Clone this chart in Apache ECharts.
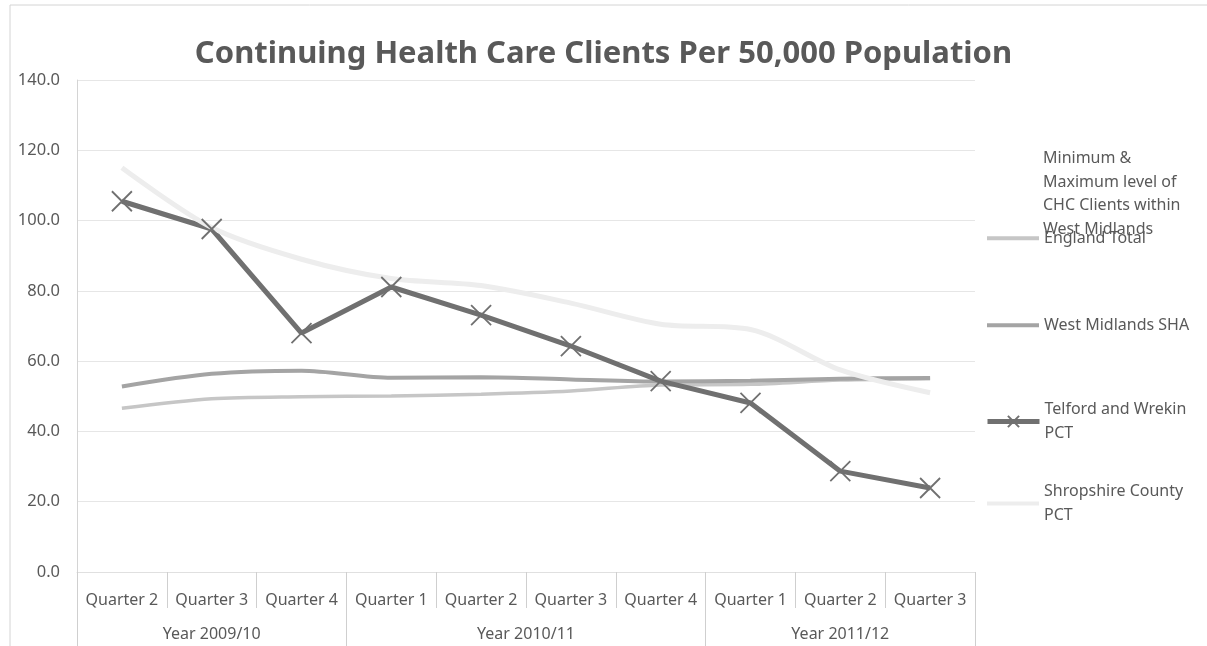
<!DOCTYPE html>
<html>
<head>
<meta charset="utf-8">
<script src="https://cdn.jsdelivr.net/npm/echarts@6/dist/echarts.min.js"></script>
<style>html,body{margin:0;padding:0;background:#fff;}#c{width:1207px;height:646px;}</style>
</head>
<body>
<div id="c"></div>
<script>
// ---- data ----
const quarters = ['Quarter 2','Quarter 3','Quarter 4','Quarter 1','Quarter 2','Quarter 3','Quarter 4','Quarter 1','Quarter 2','Quarter 3'];
const yearLabels = ['Year 2009/10','Year 2010/11','Year 2011/12'];
const yearCenters = [1.5, 5, 8.5];
const yearBounds = [0, 3, 7, 10];
const yTicks = [0, 20, 40, 60, 80, 100, 120, 140];
const minMaxName = 'Minimum &\nMaximum level of\nCHC Clients within\nWest Midlands';
const englandTotal = [46.6, 49.3, 49.9, 50.1, 50.6, 51.5, 53.2, 53.4, 54.6, 55.0];
const westMidlandsSHA = [52.8, 56.4, 57.3, 55.3, 55.4, 54.8, 54.2, 54.4, 55.0, 55.2];
const telfordWrekin = [105.5, 97.6, 68.0, 81.1, 73.1, 64.3, 54.3, 48.1, 28.7, 23.9];
const shropshire = [115.0, 98.0, 89.0, 83.5, 81.5, 76.5, 70.5, 69.0, 57.5, 51.0];

const txt = '#595959';
const font = 'Noto Sans';
const xMark = 'path://M0,0L10,10M10,0L0,10';

const chart = echarts.init(document.getElementById('c'));
function leg(name, top, item) {
  return {
    left: 985, top: top, orient: 'vertical', padding: 0,
    itemWidth: 52, itemHeight: 14, itemGap: 0,
    selectedMode: false,
    textStyle: {color: txt, fontFamily: font, fontSize: 16, lineHeight: 23.5},
    data: [Object.assign({name: name}, item || {})]
  };
}
chart.setOption({
  animation: false,
  backgroundColor: '#fff',
  title: {
    text: 'Continuing Health Care Clients Per 50,000 Population',
    left: 'center', top: 34,
    textStyle: {color: txt, fontFamily: font, fontWeight: 'bold', fontSize: 31}
  },
  graphic: [{
    type: 'rect', shape: {x: 10, y: 5, width: 1220, height: 660},
    style: {fill: 'none', stroke: '#d4d4d4', lineWidth: 1}, silent: true
  }],
  legend: [
    leg(minMaxName, 147, {itemStyle: {opacity: 0}, lineStyle: {opacity: 0}}),
    leg('England Total', 226.5, {itemStyle: {opacity: 0}, lineStyle: {width: 4}}),
    leg('West Midlands SHA', 313.5, {itemStyle: {opacity: 0}, lineStyle: {width: 4}}),
    leg('Telford and Wrekin\nPCT', 398, {lineStyle: {width: 5}}),
    leg('Shropshire County\nPCT', 480, {itemStyle: {opacity: 0}, lineStyle: {width: 4}})
  ],
  grid: {left: 77, right: 232, top: 80, bottom: 74, containLabel: false},
  xAxis: [{
    type: 'category', data: quarters, boundaryGap: true,
    axisLine: {show: true, lineStyle: {color: '#e0e0e0', width: 1}},
    axisTick: {show: true, interval: 0, length: 36, lineStyle: {color: '#cfcfcf', width: 1}},
    axisLabel: {interval: 0, color: txt, fontFamily: font, fontSize: 16, margin: 20}
  }, {
    type: 'value', min: 0, max: 10, position: 'bottom',
    axisLine: {show: false},
    splitLine: {show: false},
    axisTick: {show: true, customValues: yearBounds, length: 74, lineStyle: {color: '#cfcfcf', width: 1}},
    axisLabel: {show: true, customValues: yearCenters, color: txt, fontFamily: font, fontSize: 16, margin: 54,
      formatter: function (v) { const i = yearCenters.indexOf(v); return i >= 0 ? yearLabels[i] : ''; }}
  }],
  yAxis: {
    type: 'value', min: yTicks[0], max: yTicks[yTicks.length - 1], interval: 20,
    axisLine: {show: true, lineStyle: {color: '#d4d4d4', width: 1}},
    axisTick: {show: false},
    splitLine: {show: true, lineStyle: {color: '#e6e6e6', width: 1}},
    axisLabel: {color: txt, fontFamily: font, fontSize: 16.5, margin: 17, formatter: v => v.toFixed(1)}
  },
  series: [
    {name: minMaxName, type: 'line', data: [], symbol: 'none', lineStyle: {opacity: 0}},
    {name: 'England Total', type: 'line', data: englandTotal, smooth: 0.3, symbol: 'none',
      lineStyle: {color: '#c6c6c6', width: 3.5}, itemStyle: {color: '#c6c6c6'}},
    {name: 'West Midlands SHA', type: 'line', data: westMidlandsSHA, smooth: 0.3, symbol: 'none',
      lineStyle: {color: '#a4a4a4', width: 4}, itemStyle: {color: '#a4a4a4'}},
    {name: 'Telford and Wrekin\nPCT', type: 'line', data: telfordWrekin, symbol: xMark, symbolSize: 20,
      showAllSymbol: true,
      lineStyle: {color: '#707070', width: 5}, itemStyle: {color: 'none', borderColor: '#707070', borderWidth: 1.8}},
    {name: 'Shropshire County\nPCT', type: 'line', data: shropshire, smooth: 0.3, symbol: 'none',
      lineStyle: {color: '#ededed', width: 5}, itemStyle: {color: '#ededed'}}
  ]
});
</script>
</body>
</html>
